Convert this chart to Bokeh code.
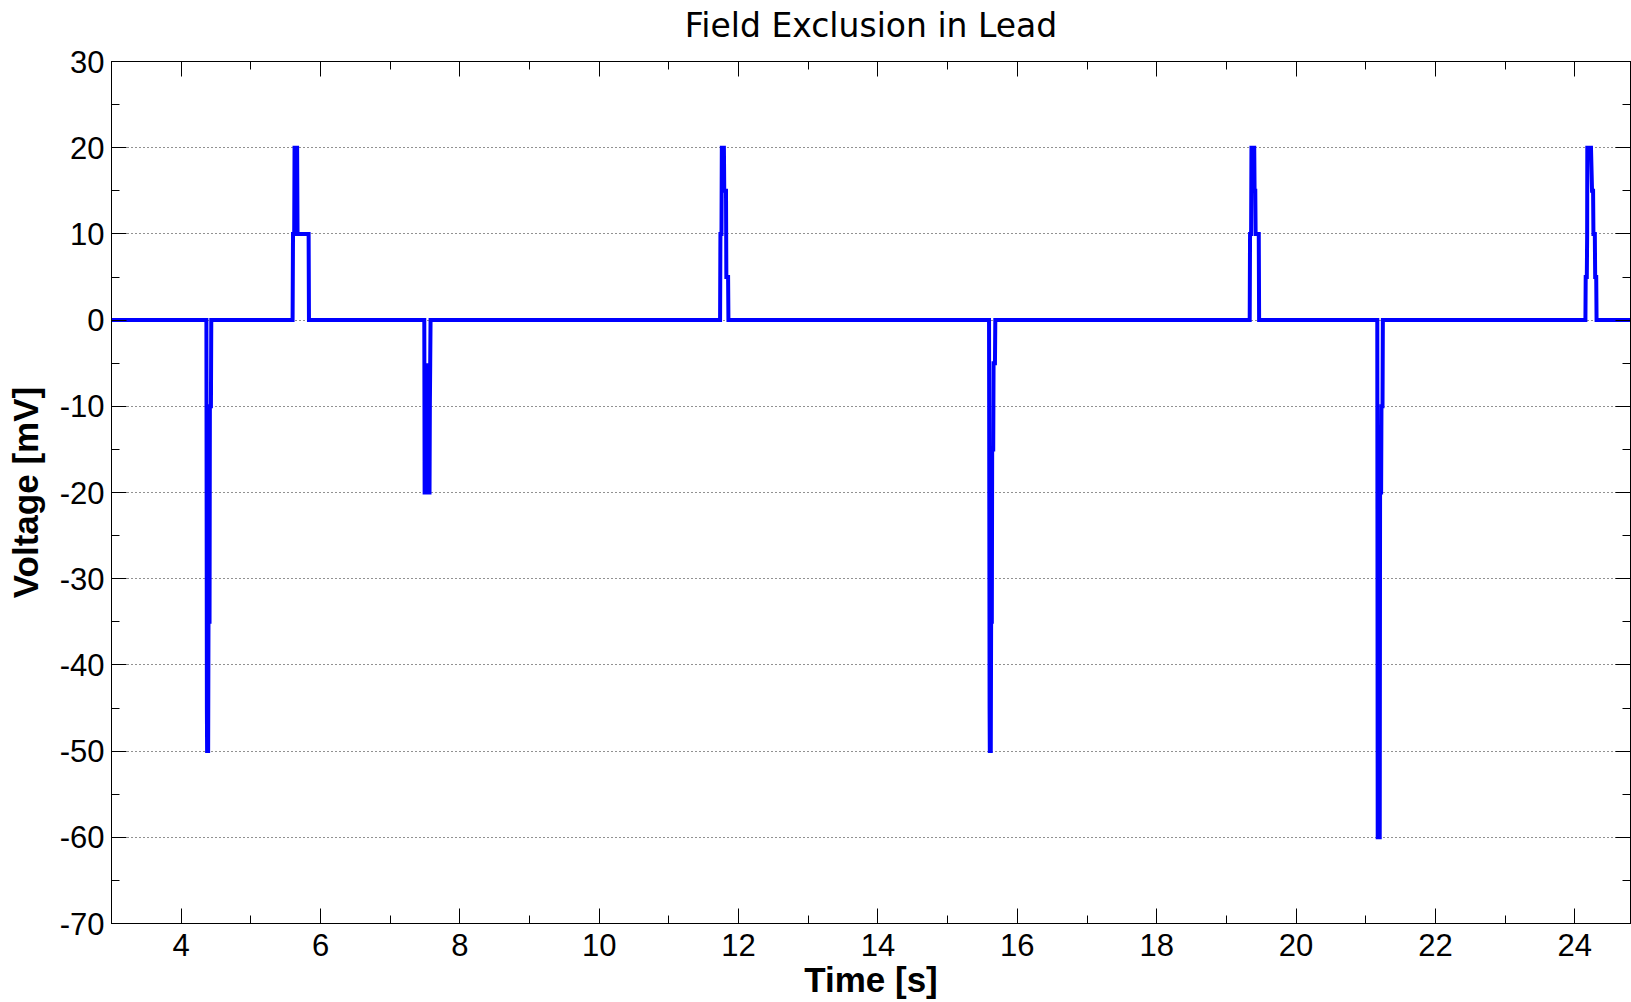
from bokeh.plotting import figure
from bokeh.models import LinearAxis, Range1d, SingleIntervalTicker, PrintfTickFormatter, Title
from bokeh.embed import file_html
from bokeh.resources import INLINE

# ---- data ----
time_s = [
    3.0,
    4.362, 4.369, 4.372, 4.387, 4.392, 4.407, 4.412, 4.427, 4.432,
    5.599, 5.605, 5.622, 5.627, 5.664, 5.670, 5.829, 5.834,
    7.489, 7.494, 7.514, 7.519, 7.534, 7.544, 7.554, 7.564, 7.569, 7.574, 7.579,
    11.734, 11.739, 11.754, 11.759, 11.789, 11.794, 11.819, 11.824, 11.849, 11.854,
    15.594, 15.602, 15.605, 15.619, 15.624, 15.634, 15.639, 15.654, 15.659, 15.679, 15.684,
    19.335, 19.340, 19.355, 19.360, 19.400, 19.405, 19.415, 19.420, 19.465, 19.470,
    21.166, 21.172, 21.201, 21.206, 21.221, 21.226, 21.241, 21.246,
    24.153, 24.157, 24.173, 24.178, 24.180, 24.233, 24.248, 24.263, 24.268, 24.288, 24.293, 24.308, 24.313,
    24.8,
]
voltage_mV = [
    0,
    0, -45, -50, -50, -35, -35, -10, -10, 0,
    0, 10, 10, 20, 20, 10, 10, 0,
    0, -20, -20, -10, -5, -10, -20, -20, -10, -5, 0,
    0, 10, 10, 20, 20, 15, 15, 5, 5, 0,
    0, -45, -50, -50, -35, -35, -15, -15, -5, -5, 0,
    0, 10, 10, 20, 20, 15, 15, 10, 10, 0,
    0, -60, -60, -20, -20, -10, -10, 0,
    0, 5, 5, 10, 20, 20, 15, 15, 10, 10, 5, 5, 0,
    0,
]

x_range = (3.0, 24.8)
y_range = (-70, 30)
x_tick_step = 2
y_tick_step = 10

title_text = "Field Exclusion in Lead"
x_label = "Time [s]"
y_label = "Voltage [mV]"

FONT = "Liberation Sans"

p = figure(
    width=1631, height=1002,
    x_range=Range1d(*x_range), y_range=Range1d(*y_range),
    output_backend="svg", toolbar_location=None,
    min_border_left=111, min_border_right=1, min_border_top=61, min_border_bottom=79,
    background_fill_color="white", border_fill_color="white",
)

p.title = Title(text=title_text, text_font="DejaVu Sans", text_font_size="33px",
                text_font_style="normal", align="center", text_color="black",
                standoff=5)

p.line(time_s, voltage_mV, line_color="#0000FF", line_width=4, line_join="miter")

# grid
p.xgrid.visible = False
p.ygrid.grid_line_color = "#222222"
p.ygrid.grid_line_dash = "1 3"
p.ygrid.grid_line_width = 1
p.ygrid.ticker = SingleIntervalTicker(interval=y_tick_step, num_minor_ticks=2)

p.outline_line_color = "black"
p.outline_line_width = 1


def style_axis(ax, interval, show_labels=True):
    ax.ticker = SingleIntervalTicker(interval=interval, num_minor_ticks=2)
    ax.axis_line_color = "black"
    ax.major_tick_line_color = "black"
    ax.minor_tick_line_color = "black"
    ax.major_tick_in = 15
    ax.major_tick_out = 0
    ax.minor_tick_in = 8
    ax.minor_tick_out = 0
    ax.major_label_text_font = FONT
    if show_labels:
        ax.formatter = PrintfTickFormatter(format="%d")
        ax.major_label_text_font_size = "31px"
        ax.major_label_text_color = "black"
    else:
        ax.major_label_text_font_size = "0px"
        ax.major_label_text_color = None
        ax.major_label_standoff = 0
        ax.axis_label_standoff = 0


xa = p.xaxis[0]
ya = p.yaxis[0]
style_axis(xa, x_tick_step)
style_axis(ya, y_tick_step)
xa.major_label_standoff = 10
ya.major_label_standoff = 7
xa.axis_label = x_label
ya.axis_label = y_label
for ax in (xa, ya):
    ax.axis_label_text_font = FONT
    ax.axis_label_text_font_size = "35px"
    ax.axis_label_text_font_style = "bold"
    ax.axis_label_text_color = "black"
xa.axis_label_standoff = 1
ya.axis_label_standoff = 12

# mirrored tick marks on the top and right edges of the box
top_ax = LinearAxis()
right_ax = LinearAxis()
style_axis(top_ax, x_tick_step, show_labels=False)
style_axis(right_ax, y_tick_step, show_labels=False)
p.add_layout(top_ax, "above")
p.add_layout(right_ax, "right")

# invisible spacer between the box and the title
spacer = LinearAxis()
style_axis(spacer, x_tick_step, show_labels=False)
spacer.axis_line_color = None
spacer.major_tick_line_color = None
spacer.minor_tick_line_color = None
spacer.major_tick_in = 0
spacer.minor_tick_in = 0
spacer.major_tick_out = 14
p.add_layout(spacer, "above")

open("out.html", "w").write(file_html(p, INLINE))
